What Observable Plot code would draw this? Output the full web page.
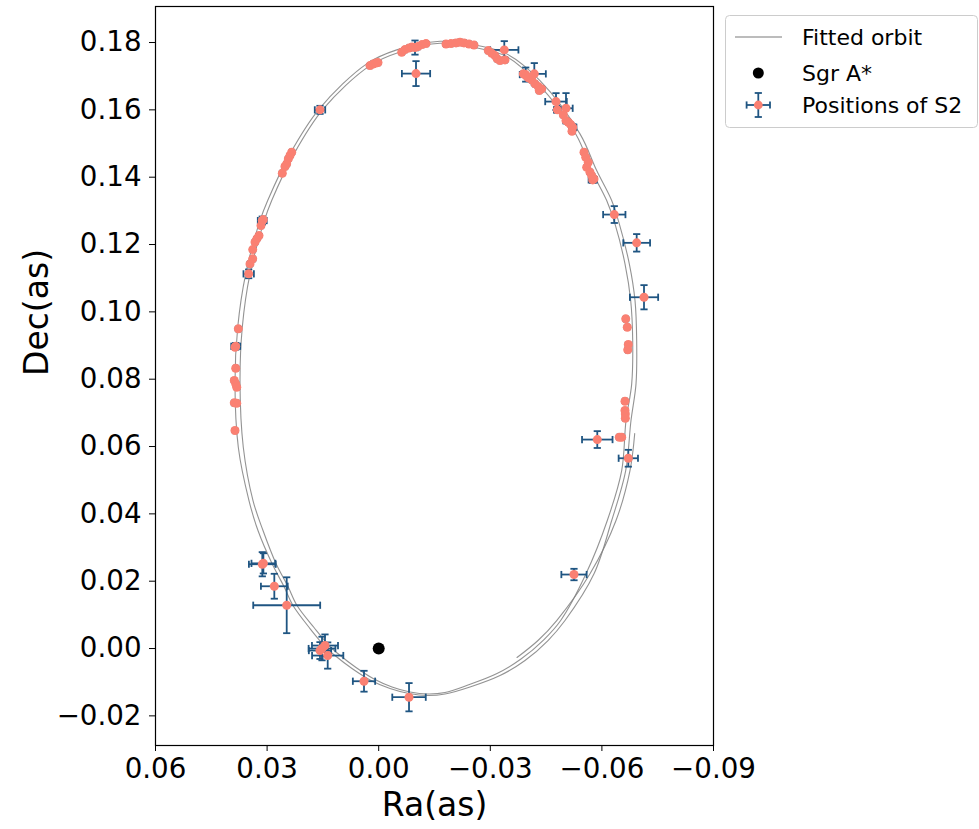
<!DOCTYPE html>
<html>
<head>
<meta charset="utf-8">
<script src="https://cdn.jsdelivr.net/npm/d3@7"></script>
<script src="https://cdn.jsdelivr.net/npm/@observablehq/plot@0.6"></script>
<style>
  body { margin: 0; background: #fff; font-family: "DejaVu Sans", sans-serif; }
  #wrap { position: relative; width: 979px; height: 829px; }
  #legend { position: absolute; left: 725px; top: 15px; }
</style>
</head>
<body>
<div id="wrap"></div>
<script>
// ---------- data (arcseconds) ----------
const xTicks = [0.06, 0.03, 0.00, -0.03, -0.06, -0.09];
const yTicks = [-0.02, 0.00, 0.02, 0.04, 0.06, 0.08, 0.10, 0.12, 0.14, 0.16, 0.18];

// Sgr A* position
const sgrA = [[0, 0]];

// Fitted orbit, first revolution [Ra, Dec]
const orbitLoopA = [
  [-0.01325, -0.01396], [-0.00815, -0.01337], [-0.00304, -0.01188], [0.00207, -0.00950],
  [0.00718, -0.00594], [0.01175, -0.00208], [0.01417, 0.00030], [0.01847, 0.00594],
  [0.02304, 0.01277], [0.02546, 0.01841], [0.02868, 0.02525], [0.03245, 0.03505],
  [0.03487, 0.04396], [0.03774, 0.05979], [0.03863, 0.07870],
  [0.03790, 0.09543], [0.03575, 0.11129], [0.03191, 0.12712], [0.02984, 0.13306],
  [0.02384, 0.14693], [0.01597, 0.16029], [0.00323, 0.17366], [-0.00484, 0.17781],
  [-0.01648, 0.18037], [-0.02543, 0.17939], [-0.03441, 0.17663], [-0.04336, 0.16870],
  [-0.05411, 0.15287], [-0.05860, 0.14197], [-0.06263, 0.13306], [-0.06468, 0.12614],
  [-0.06737, 0.11426], [-0.06890, 0.10336], [-0.06935, 0.09148], [-0.06917, 0.07862],
  [-0.06782, 0.06772], [-0.06640, 0.05287], [-0.06263, 0.03802], [-0.05788, 0.02219],
  [-0.05008, 0.00832], [-0.04551, 0.00238], [-0.03933, -0.00356], [-0.03261, -0.00802],
  [-0.02454, -0.01143], [-0.01782, -0.01351]
];

// Fitted orbit, second revolution (slightly precessed)
const orbitLoopB = [
  [-0.01325, -0.01351], [-0.00841, -0.01292], [-0.00358, -0.01143], [0.00126, -0.00906],
  [0.00610, -0.00564], [0.01067, -0.00178], [0.01309, 0.00059], [0.01739, 0.00624],
  [0.02196, 0.01277], [0.02438, 0.01841], [0.02761, 0.02525], [0.03110, 0.03505],
  [0.03379, 0.04396], [0.03640, 0.05979], [0.03728, 0.07870],
  [0.03667, 0.09543], [0.03460, 0.11129], [0.03075, 0.12712], [0.02876, 0.13306],
  [0.02277, 0.14693], [0.01489, 0.16029], [0.00234, 0.17315], [-0.00573, 0.17716],
  [-0.01648, 0.17978], [-0.02543, 0.17859], [-0.03441, 0.17582], [-0.04255, 0.16810],
  [-0.05304, 0.15266], [-0.05734, 0.14167], [-0.06129, 0.13306], [-0.06352, 0.12614],
  [-0.06621, 0.11426], [-0.06774, 0.10336], [-0.06828, 0.09148], [-0.06801, 0.07862],
  [-0.06648, 0.06772], [-0.06532, 0.05287], [-0.06145, 0.03802], [-0.05573, 0.02219],
  [-0.04892, 0.00832], [-0.04444, 0.00267], [-0.03825, -0.00312], [-0.03180, -0.00743],
  [-0.02400, -0.01084], [-0.01782, -0.01307]
];

// Fitted orbit, last partial arc
const orbitArc = [
  [-0.03718, -0.00267], [-0.04282, 0.00238], [-0.04785, 0.00832], [-0.05680, 0.02219],
  [-0.06379, 0.03802], [-0.06755, 0.05287], [-0.06882, 0.06386]
];

// Positions of S2: [Ra, Dec, Ra error, Dec error]
const s2Positions = [
  [0.01578, 0.16000, 0.0014, 0.0012], [0.02339, 0.14740, 0.0005, 0.0005],
  [0.02384, 0.14643, 0.0005, 0.0005], [0.02430, 0.14544, 0.0005, 0.0005],
  [0.02474, 0.14396, 0.0005, 0.0005], [0.02519, 0.14316, 0.0005, 0.0005],
  [0.02591, 0.14116, 0.0005, 0.0005], [0.03130, 0.12712, 0.0012, 0.0012],
  [0.03102, 0.12741, 0.0005, 0.0005], [0.03164, 0.12563, 0.0005, 0.0005],
  [0.03218, 0.12266, 0.0005, 0.0005], [0.03272, 0.12177, 0.0005, 0.0005],
  [0.03325, 0.12073, 0.0005, 0.0005], [0.03387, 0.11850, 0.0005, 0.0005],
  [0.03387, 0.11574, 0.0005, 0.0005], [0.03460, 0.11425, 0.0005, 0.0005],
  [0.03495, 0.11129, 0.0014, 0.0013],
  [0.03774, 0.09495, 0.0005, 0.0005], [0.03844, 0.08978, 0.0012, 0.0010],
  [0.03863, 0.08950, 0.0005, 0.0005], [0.03844, 0.08325, 0.0005, 0.0005],
  [0.03882, 0.07960, 0.0005, 0.0005], [0.03844, 0.07862, 0.0005, 0.0005],
  [0.03817, 0.07761, 0.0005, 0.0005], [0.03882, 0.07297, 0.0005, 0.0005],
  [0.03817, 0.07286, 0.0005, 0.0005], [0.03863, 0.06475, 0.0005, 0.0005],
  [0.00234, 0.17315, 0.0005, 0.0005], [0.00153, 0.17360, 0.0005, 0.0005],
  [0.00073, 0.17389, 0.0005, 0.0005], [0.00019, 0.17404, 0.0005, 0.0005],
  [-0.00618, 0.17710, 0.0005, 0.0005], [-0.00707, 0.17790, 0.0005, 0.0005],
  [-0.00815, 0.17835, 0.0005, 0.0005], [-0.00895, 0.17864, 0.0005, 0.0005],
  [-0.00976, 0.17850, 0.0008, 0.0021], [-0.01057, 0.17879, 0.0005, 0.0005],
  [-0.01164, 0.17939, 0.0005, 0.0005], [-0.01272, 0.17969, 0.0005, 0.0005],
  [-0.01003, 0.17077, 0.0038, 0.0037],
  [-0.01809, 0.17954, 0.0005, 0.0005], [-0.01944, 0.17969, 0.0005, 0.0005],
  [-0.02078, 0.17989, 0.0005, 0.0005], [-0.02185, 0.18007, 0.0005, 0.0005],
  [-0.02293, 0.17989, 0.0005, 0.0005], [-0.02427, 0.17954, 0.0005, 0.0005],
  [-0.02562, 0.17924, 0.0005, 0.0005],
  [-0.02946, 0.17760, 0.0005, 0.0005], [-0.03038, 0.17680, 0.0005, 0.0005],
  [-0.03126, 0.17612, 0.0005, 0.0005], [-0.03188, 0.17514, 0.0005, 0.0005],
  [-0.03261, 0.17464, 0.0005, 0.0005], [-0.03395, 0.17484, 0.0005, 0.0005],
  [-0.03376, 0.17781, 0.0038, 0.0026],
  [-0.03887, 0.17069, 0.0005, 0.0005], [-0.03960, 0.17018, 0.0005, 0.0005],
  [-0.03952, 0.17048, 0.0016, 0.0021], [-0.04022, 0.16950, 0.0005, 0.0005],
  [-0.04113, 0.16890, 0.0005, 0.0005], [-0.04183, 0.17069, 0.0031, 0.0032],
  [-0.04202, 0.16772, 0.0005, 0.0005], [-0.04290, 0.16691, 0.0005, 0.0005],
  [-0.04382, 0.16623, 0.0005, 0.0005], [-0.04317, 0.16573, 0.0005, 0.0005],
  [-0.04766, 0.16246, 0.0029, 0.0025], [-0.04801, 0.16000, 0.0009, 0.0008],
  [-0.05035, 0.16047, 0.0018, 0.0045], [-0.04962, 0.15851, 0.0005, 0.0005],
  [-0.05035, 0.15682, 0.0005, 0.0005], [-0.05097, 0.15631, 0.0005, 0.0005],
  [-0.05161, 0.15563, 0.0005, 0.0005], [-0.05215, 0.15483, 0.0010, 0.0009],
  [-0.05196, 0.15364, 0.0005, 0.0005],
  [-0.05519, 0.14740, 0.0005, 0.0005], [-0.05565, 0.14592, 0.0005, 0.0005],
  [-0.05634, 0.14443, 0.0005, 0.0005], [-0.05591, 0.14295, 0.0005, 0.0005],
  [-0.05680, 0.14146, 0.0005, 0.0005], [-0.05726, 0.14048, 0.0005, 0.0005],
  [-0.05788, 0.13950, 0.0005, 0.0005], [-0.05753, 0.13920, 0.0011, 0.0009],
  [-0.06333, 0.12890, 0.0030, 0.0025], [-0.06935, 0.12050, 0.0036, 0.0026],
  [-0.07132, 0.10434, 0.0038, 0.0036],
  [-0.06640, 0.09792, 0.0005, 0.0005], [-0.06683, 0.09543, 0.0005, 0.0005],
  [-0.06710, 0.09029, 0.0005, 0.0005], [-0.06694, 0.08871, 0.0005, 0.0005],
  [-0.06621, 0.07345, 0.0005, 0.0005], [-0.06621, 0.07069, 0.0005, 0.0005],
  [-0.06630, 0.06970, 0.0005, 0.0005], [-0.06630, 0.06840, 0.0005, 0.0005],
  [-0.06468, 0.06276, 0.0005, 0.0005], [-0.06532, 0.06276, 0.0005, 0.0005],
  [-0.05876, 0.06207, 0.0041, 0.0025], [-0.06710, 0.05652, 0.0026, 0.0025],
  [-0.05250, 0.02198, 0.0034, 0.0017],
  [0.03129, 0.02504, 0.0036, 0.0036], [0.03100, 0.02530, 0.0032, 0.0030],
  [0.02806, 0.01850, 0.0036, 0.0037], [0.02473, 0.01286, 0.0090, 0.0083],
  [0.01524, 0.00000, 0.0036, 0.0035], [0.01444, 0.00089, 0.0035, 0.0033],
  [0.01578, -0.00060, 0.0030, 0.0025], [0.01371, -0.00208, 0.0042, 0.0039],
  [0.00395, -0.00971, 0.0030, 0.0031], [-0.00815, -0.01446, 0.0045, 0.0042]
];

// ---------- styles ----------
const orbitColor = "#808080";
const errColor = "#1f5582";
const markerColor = "#fa8072";
const font = "DejaVu Sans";

// cap symbols for error bars
const capV = { draw(ctx, size) { const r = Math.sqrt(size / Math.PI); ctx.moveTo(0, -r); ctx.lineTo(0, r); } };
const capH = { draw(ctx, size) { const r = Math.sqrt(size / Math.PI); ctx.moveTo(-r, 0); ctx.lineTo(r, 0); } };

const X = d => d[0], Y = d => d[1];
const orbitLine = (data, curve) => Plot.line(data, {
  x: X, y: Y, curve, stroke: orbitColor, strokeWidth: 1.1, strokeOpacity: 0.85
});

const capR = 3.6, errW = 1.8;
const chart = Plot.plot({
  width: 979,
  height: 829,
  marginLeft: 155,
  marginRight: 266,
  marginTop: 6,
  marginBottom: 84,
  style: { fontFamily: font, fontSize: "27.7px", color: "black", background: "white" },
  x: { domain: [0.06, -0.09], label: null },
  y: { domain: [-0.0288, 0.1907], label: null },
  marks: [
    orbitLine(orbitLoopA, "catmull-rom-closed"),
    orbitLine(orbitLoopB, "catmull-rom-closed"),
    orbitLine(orbitArc, "catmull-rom"),
    Plot.dot(sgrA, { x: X, y: Y, r: 6, fill: "black" }),
    // error bars
    Plot.link(s2Positions, { x1: d => d[0] - d[2], x2: d => d[0] + d[2], y1: Y, y2: Y, stroke: errColor, strokeWidth: errW }),
    Plot.link(s2Positions, { x1: X, x2: X, y1: d => d[1] - d[3], y2: d => d[1] + d[3], stroke: errColor, strokeWidth: errW }),
    Plot.dot(s2Positions, { x: d => d[0] - d[2], y: Y, symbol: capV, r: capR, stroke: errColor, strokeWidth: errW, fill: "none" }),
    Plot.dot(s2Positions, { x: d => d[0] + d[2], y: Y, symbol: capV, r: capR, stroke: errColor, strokeWidth: errW, fill: "none" }),
    Plot.dot(s2Positions, { x: X, y: d => d[1] - d[3], symbol: capH, r: capR, stroke: errColor, strokeWidth: errW, fill: "none" }),
    Plot.dot(s2Positions, { x: X, y: d => d[1] + d[3], symbol: capH, r: capR, stroke: errColor, strokeWidth: errW, fill: "none" }),
    // markers
    Plot.dot(s2Positions, { x: X, y: Y, r: 4.5, fill: markerColor, stroke: "none" }),
    Plot.frame({ stroke: "black", strokeWidth: 1.2 }),
    Plot.axisX({ ticks: xTicks, tickFormat: d3.format(".2f"), tickSize: 6, tickPadding: 7, label: null }),
    Plot.axisY({ ticks: yTicks, tickFormat: d3.format(".2f"), tickSize: 6, tickPadding: 8, label: null }),
    Plot.text(["Ra(as)"], { frameAnchor: "bottom", text: d => d, dy: 60, lineAnchor: "middle", fontSize: 33, fill: "black" }),
    Plot.text(["Dec(as)"], { frameAnchor: "left", text: d => d, dx: -118, rotate: -90, lineAnchor: "middle", fontSize: 33, fill: "black" })
  ]
});

const wrap = document.getElementById("wrap");
wrap.appendChild(chart);

// ---------- legend ----------
const legendItems = ["Fitted orbit", "Sgr A*", "Positions of S2"];
const ns = "http://www.w3.org/2000/svg";
const lg = document.createElementNS(ns, "svg");
lg.setAttribute("id", "legend");
lg.setAttribute("width", 253);
lg.setAttribute("height", 114);
lg.innerHTML = `
  <rect x="0.5" y="0.5" width="252" height="112" rx="4" fill="white" fill-opacity="0.8" stroke="#cccccc" stroke-width="1"/>
  <line x1="10" x2="57" y1="22" y2="22" stroke="${orbitColor}" stroke-opacity="0.7" stroke-width="1.3"/>
  <circle cx="33.3" cy="58" r="5.5" fill="black"/>
  <g stroke="${errColor}" stroke-width="${errW}">
    <line x1="21.6" x2="45" y1="90" y2="90"/>
    <line x1="33.3" x2="33.3" y1="78" y2="102"/>
    <line x1="21.6" x2="21.6" y1="86.4" y2="93.6"/>
    <line x1="45" x2="45" y1="86.4" y2="93.6"/>
    <line x1="29.7" x2="36.9" y1="78" y2="78"/>
    <line x1="29.7" x2="36.9" y1="102" y2="102"/>
  </g>
  <circle cx="33.3" cy="90" r="4.4" fill="${markerColor}"/>
`;
const ys = [22, 58, 90];
legendItems.forEach((t, i) => {
  const tx = document.createElementNS(ns, "text");
  tx.setAttribute("x", 77);
  tx.setAttribute("y", ys[i]);
  tx.setAttribute("dominant-baseline", "central");
  tx.setAttribute("font-family", font);
  tx.setAttribute("font-size", "22px");
  tx.setAttribute("fill", "black");
  tx.textContent = t;
  lg.appendChild(tx);
});
wrap.appendChild(lg);
</script>
</body>
</html>
